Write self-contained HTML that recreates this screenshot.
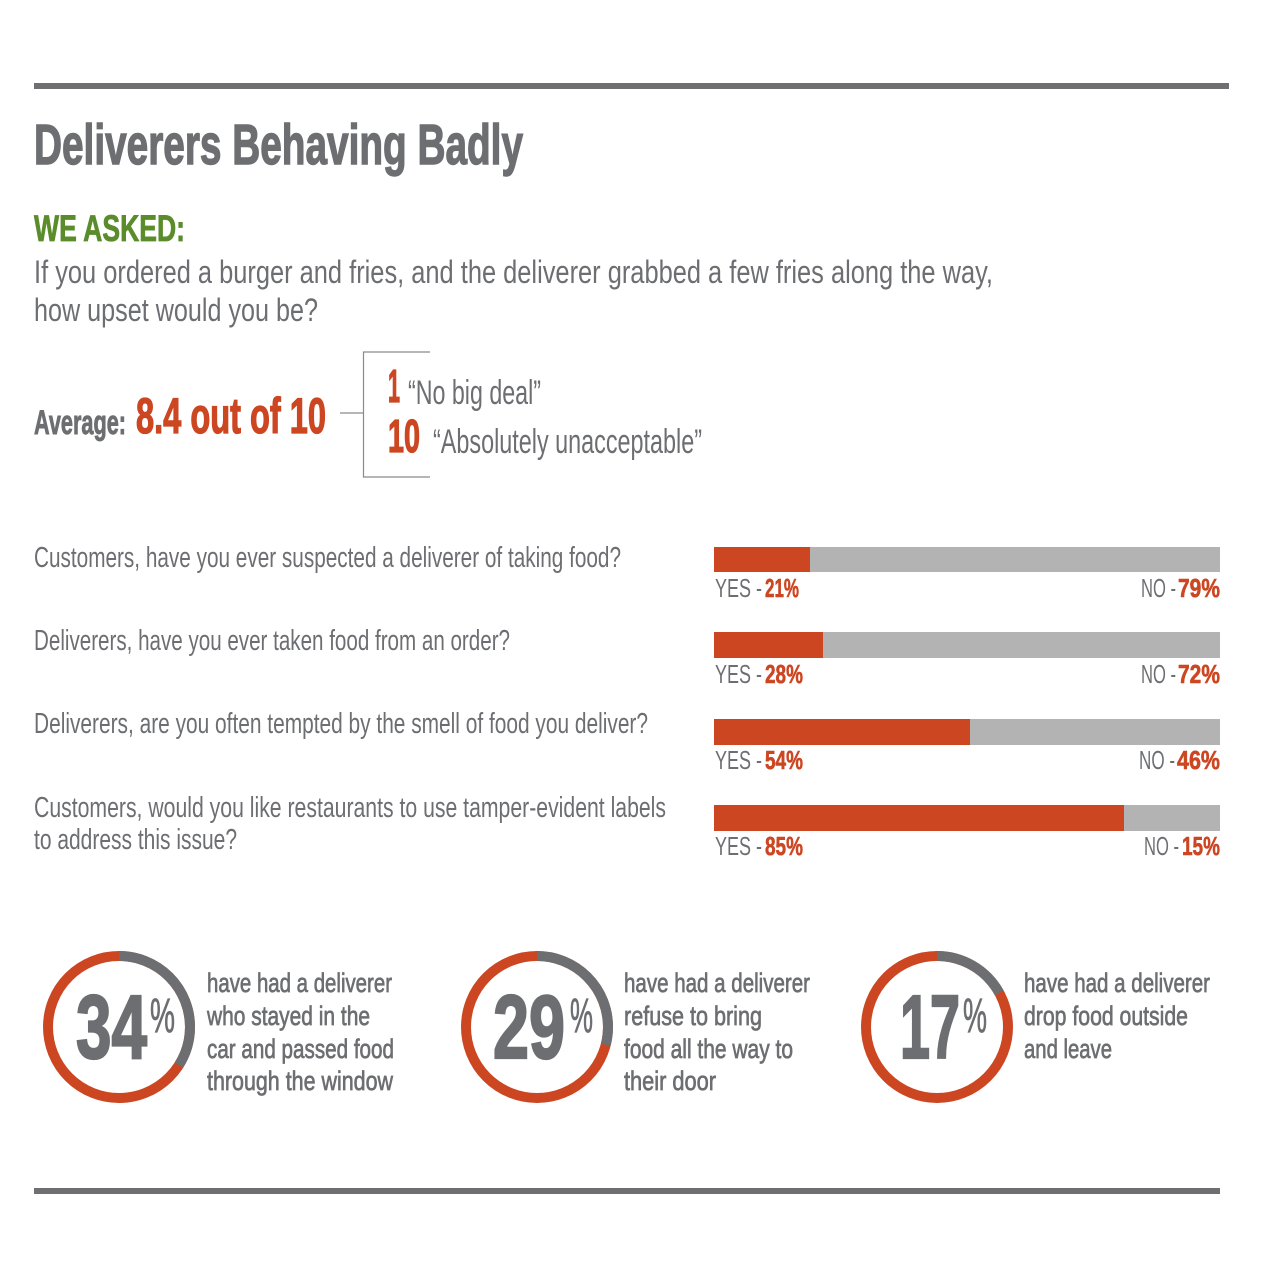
<!DOCTYPE html>
<html>
<head>
<meta charset="utf-8">
<style>
html,body{margin:0;padding:0;background:#ffffff;}
svg{display:block;}
text{font-family:"Liberation Sans Narrow","Liberation Sans",sans-serif;}
.g{fill:#6d6e71;}
.r{fill:#cc4622;}
.b{font-weight:700;}
</style>
</head>
<body>
<svg width="1261" height="1280" viewBox="0 0 1261 1280" xmlns="http://www.w3.org/2000/svg">
<rect x="0" y="0" width="1261" height="1280" fill="#ffffff"/>

<!-- top rule -->
<rect x="34" y="83" width="1195" height="6" fill="#6f6f72"/>

<!-- title -->
<text class="g b" x="34" y="164" font-size="57" stroke="#6d6e71" stroke-width="1.4" textLength="489" lengthAdjust="spacingAndGlyphs">Deliverers Behaving Badly</text>

<!-- we asked -->
<text x="34" y="241" font-size="37" font-weight="700" fill="#5b8c2c" stroke="#5b8c2c" stroke-width="0.8" textLength="151" lengthAdjust="spacingAndGlyphs">WE ASKED:</text>
<text class="g" x="34" y="283" font-size="32" textLength="959" lengthAdjust="spacingAndGlyphs">If you ordered a burger and fries, and the deliverer grabbed a few fries along the way,</text>
<text class="g" x="34" y="321" font-size="32" textLength="284" lengthAdjust="spacingAndGlyphs">how upset would you be?</text>

<!-- average -->
<text class="g b" x="34" y="434" font-size="34" stroke="#6d6e71" stroke-width="0.9" textLength="92" lengthAdjust="spacingAndGlyphs">Average:</text>
<text class="r b" x="136" y="433" font-size="50" stroke="#cc4622" stroke-width="1.3" textLength="190" lengthAdjust="spacingAndGlyphs">8.4 out of 10</text>
<line x1="340" y1="413" x2="363" y2="413" stroke="#8a8a8a" stroke-width="1.2"/>
<polyline points="430,352 363.5,352 363.5,477 430,477" fill="none" stroke="#8a8a8a" stroke-width="1.2"/>
<text class="r b" x="388" y="402" font-size="46" stroke="#cc4622" stroke-width="1.3" textLength="12" lengthAdjust="spacingAndGlyphs">1</text>
<text class="g" x="408" y="404" font-size="34" textLength="133" lengthAdjust="spacingAndGlyphs">“No big deal”</text>
<text class="r b" x="388" y="452" font-size="46" stroke="#cc4622" stroke-width="1.3" textLength="32" lengthAdjust="spacingAndGlyphs">10</text>
<text class="g" x="433" y="453" font-size="34" textLength="269" lengthAdjust="spacingAndGlyphs">“Absolutely unacceptable”</text>

<!-- bar questions -->
<text class="g" x="34" y="567" font-size="29" textLength="587" lengthAdjust="spacingAndGlyphs">Customers, have you ever suspected a deliverer of taking food?</text>
<text class="g" x="34" y="650" font-size="29" textLength="476" lengthAdjust="spacingAndGlyphs">Deliverers, have you ever taken food from an order?</text>
<text class="g" x="34" y="733" font-size="29" textLength="614" lengthAdjust="spacingAndGlyphs">Deliverers, are you often tempted by the smell of food you deliver?</text>
<text class="g" x="34" y="817" font-size="29" textLength="632" lengthAdjust="spacingAndGlyphs">Customers, would you like restaurants to use tamper-evident labels</text>
<text class="g" x="34" y="849" font-size="29" textLength="203" lengthAdjust="spacingAndGlyphs">to address this issue?</text>

<!-- bars -->
<rect x="714" y="547" width="506" height="25" fill="#b3b3b3"/>
<rect x="714" y="547" width="96" height="25" fill="#cc4622"/>
<rect x="714" y="632" width="506" height="26" fill="#b3b3b3"/>
<rect x="714" y="632" width="109" height="26" fill="#cc4622"/>
<rect x="714" y="719" width="506" height="26" fill="#b3b3b3"/>
<rect x="714" y="719" width="256" height="26" fill="#cc4622"/>
<rect x="714" y="805" width="506" height="26" fill="#b3b3b3"/>
<rect x="714" y="805" width="410" height="26" fill="#cc4622"/>

<!-- bar labels -->
<g font-size="26">
<text class="g" x="715" y="597" textLength="47" lengthAdjust="spacingAndGlyphs">YES -</text>
<text class="r b" x="765" y="597" stroke="#cc4622" stroke-width="0.6" textLength="34" lengthAdjust="spacingAndGlyphs">21%</text>
<text class="g" x="1176" y="597" text-anchor="end" textLength="35" lengthAdjust="spacingAndGlyphs">NO -</text>
<text class="r b" x="1220" y="597" stroke="#cc4622" stroke-width="0.6" text-anchor="end" textLength="42" lengthAdjust="spacingAndGlyphs">79%</text>

<text class="g" x="715" y="683" textLength="47" lengthAdjust="spacingAndGlyphs">YES -</text>
<text class="r b" x="765" y="683" stroke="#cc4622" stroke-width="0.6" textLength="38" lengthAdjust="spacingAndGlyphs">28%</text>
<text class="g" x="1176" y="683" text-anchor="end" textLength="35" lengthAdjust="spacingAndGlyphs">NO -</text>
<text class="r b" x="1220" y="683" stroke="#cc4622" stroke-width="0.6" text-anchor="end" textLength="42" lengthAdjust="spacingAndGlyphs">72%</text>

<text class="g" x="715" y="769" textLength="47" lengthAdjust="spacingAndGlyphs">YES -</text>
<text class="r b" x="765" y="769" stroke="#cc4622" stroke-width="0.6" textLength="38" lengthAdjust="spacingAndGlyphs">54%</text>
<text class="g" x="1175" y="769" text-anchor="end" textLength="36" lengthAdjust="spacingAndGlyphs">NO -</text>
<text class="r b" x="1220" y="769" stroke="#cc4622" stroke-width="0.6" text-anchor="end" textLength="43" lengthAdjust="spacingAndGlyphs">46%</text>

<text class="g" x="715" y="855" textLength="47" lengthAdjust="spacingAndGlyphs">YES -</text>
<text class="r b" x="765" y="855" stroke="#cc4622" stroke-width="0.6" textLength="38" lengthAdjust="spacingAndGlyphs">85%</text>
<text class="g" x="1179" y="855" text-anchor="end" textLength="35" lengthAdjust="spacingAndGlyphs">NO -</text>
<text class="r b" x="1220" y="855" stroke="#cc4622" stroke-width="0.6" text-anchor="end" textLength="38" lengthAdjust="spacingAndGlyphs">15%</text>
</g>

<!-- circles -->
<g fill="none" stroke-width="10">
<circle cx="119" cy="1027" r="71" stroke="#cc4622"/>
<circle cx="119" cy="1027" r="71" stroke="#6d6e71" stroke-dasharray="151.7 500" transform="rotate(-90 119 1027)"/>
<circle cx="537" cy="1027" r="71" stroke="#cc4622"/>
<circle cx="537" cy="1027" r="71" stroke="#6d6e71" stroke-dasharray="129.4 500" transform="rotate(-90 537 1027)"/>
<circle cx="937" cy="1027" r="71" stroke="#cc4622"/>
<circle cx="937" cy="1027" r="71" stroke="#6d6e71" stroke-dasharray="75.8 500" transform="rotate(-90 937 1027)"/>
</g>

<!-- big numbers -->
<g stroke="#6d6e71">
<text class="g b" x="76" y="1058" font-size="90" stroke-width="2.2" textLength="71" lengthAdjust="spacingAndGlyphs">34</text>
<text class="g" x="150" y="1032" font-size="48" stroke-width="0.8" textLength="25" lengthAdjust="spacingAndGlyphs">%</text>
<text class="g b" x="493" y="1058" font-size="90" stroke-width="2.2" textLength="72" lengthAdjust="spacingAndGlyphs">29</text>
<text class="g" x="570" y="1032" font-size="48" stroke-width="0.8" textLength="23" lengthAdjust="spacingAndGlyphs">%</text>
<text class="g b" x="900" y="1058" font-size="90" stroke-width="2.2" textLength="60" lengthAdjust="spacingAndGlyphs">17</text>
<text class="g" x="963" y="1032" font-size="48" stroke-width="0.8" textLength="24" lengthAdjust="spacingAndGlyphs">%</text>
</g>

<!-- descriptions -->
<g font-size="27" fill="#6d6e71" stroke="#6d6e71" stroke-width="0.7">
<text x="207" y="992" textLength="185" lengthAdjust="spacingAndGlyphs">have had a deliverer</text>
<text x="207" y="1025" textLength="163" lengthAdjust="spacingAndGlyphs">who stayed in the</text>
<text x="207" y="1058" textLength="187" lengthAdjust="spacingAndGlyphs">car and passed food</text>
<text x="207" y="1090" textLength="186" lengthAdjust="spacingAndGlyphs">through the window</text>

<text x="624" y="992" textLength="186" lengthAdjust="spacingAndGlyphs">have had a deliverer</text>
<text x="624" y="1025" textLength="138" lengthAdjust="spacingAndGlyphs">refuse to bring</text>
<text x="624" y="1058" textLength="169" lengthAdjust="spacingAndGlyphs">food all the way to</text>
<text x="624" y="1090" textLength="92" lengthAdjust="spacingAndGlyphs">their door</text>

<text x="1024" y="992" textLength="186" lengthAdjust="spacingAndGlyphs">have had a deliverer</text>
<text x="1024" y="1025" textLength="164" lengthAdjust="spacingAndGlyphs">drop food outside</text>
<text x="1024" y="1058" textLength="88" lengthAdjust="spacingAndGlyphs">and leave</text>
</g>

<!-- bottom rule -->
<rect x="34" y="1188" width="1186" height="6" fill="#6f6f72"/>
</svg>
</body>
</html>
